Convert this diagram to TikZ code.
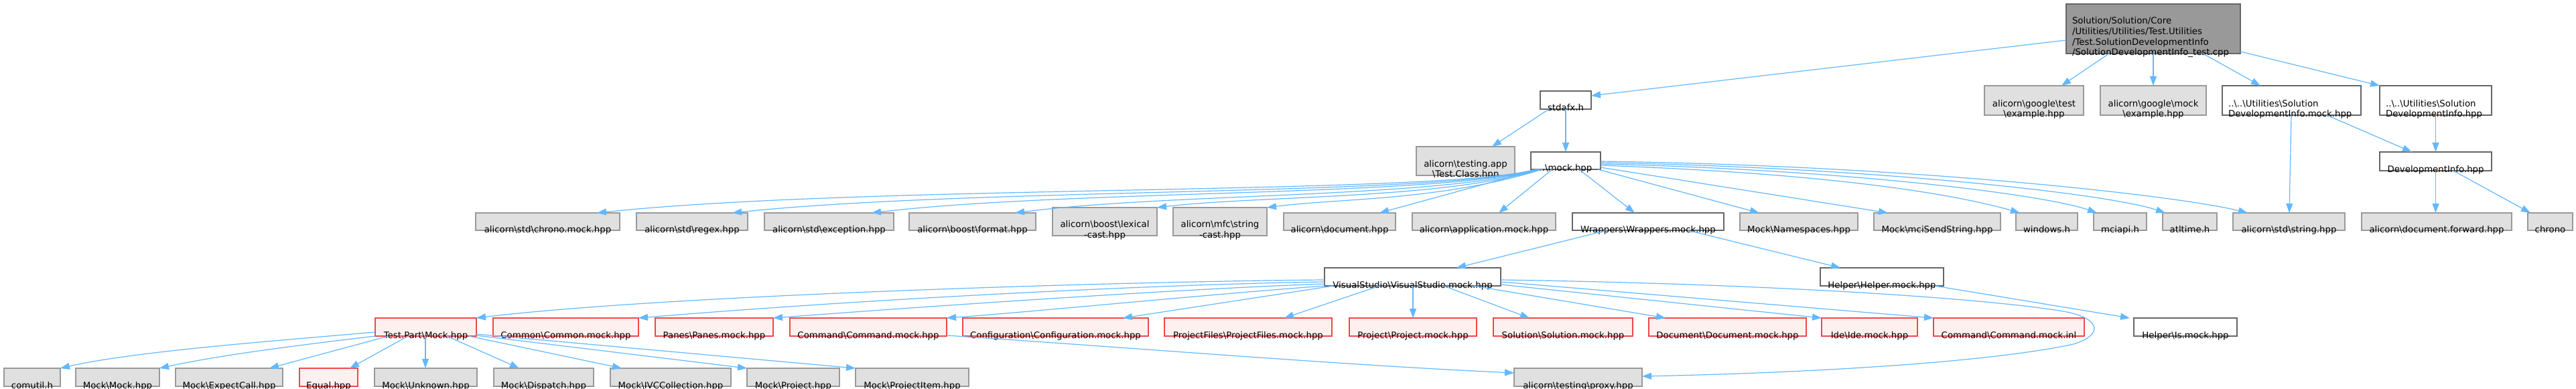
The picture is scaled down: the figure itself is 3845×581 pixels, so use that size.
\documentclass[tikz,border=0pt]{standalone}
\usepackage{fontspec}
\setmainfont{DejaVu Sans}
\usetikzlibrary{arrows.meta,fit,calc}
\definecolor{gfill}{HTML}{E0E0E0}
\definecolor{gdraw}{HTML}{999999}
\definecolor{wdraw}{HTML}{666666}
\definecolor{rfill}{HTML}{FFF0F0}
\definecolor{rdraw}{HTML}{F04848}
\definecolor{dfill}{HTML}{999999}
\definecolor{ecol}{HTML}{63B8FF}
\newcommand\BS{\textbackslash{}}
\newcommand\mkbox[7]{%
  \node[#1,fit={(#3,#4) (#5,#6)}] (#2) {};
  \node[lbl,anchor=base] (#2-t) at ([yshift=-3bp]#2.south) {#7};}
\newcommand\mkboxl[7]{%
  \node[#1,fit={(#3,#4) (#5,#6)}] (#2) {};
  \node[lbl,anchor=base west] (#2-t) at ([xshift=9bp,yshift=-3bp]#2.south west) {#7};}
\newcommand\twoln[2]{\begin{tabular}[b]{@{}c@{}}#1\\#2\end{tabular}}
\newcommand\twolnl[2]{\begin{tabular}[b]{@{}l@{}}#1\\#2\end{tabular}}
\tikzset{
  basebox/.style={inner sep=0pt,outer sep=0pt,line width=1.2bp},
  gbox/.style={basebox,fill=gfill,draw=gdraw},
  wbox/.style={basebox,fill=white,draw=wdraw},
  rbox/.style={basebox,fill=rfill,draw=rdraw},
  dbox/.style={basebox,fill=dfill,draw=wdraw},
  lbl/.style={inner sep=0pt,outer sep=0pt,font=\fontsize{13.3bp}{15.8bp}\selectfont},
  edge/.style={draw=ecol,line width=1.2bp,-{Triangle[length=14bp,width=10bp]}}
}
\begin{document}
\begin{tikzpicture}[x=1bp,y=-1bp]
\fill[white] (0,0) rectangle (3845,581);
\useasboundingbox (0,0) rectangle (3845,581);
% row 0
\mkboxl{dbox}{top}{3084}{6}{3344}{80}{\begin{tabular}[b]{@{}l@{}}Solution/Solution/Core\\/Utilities/Utilities/Test.Utilities\\/Test.SolutionDevelopmentInfo\\/SolutionDevelopmentInfo\_test.cpp\end{tabular}}
% row 1
\mkbox{wbox}{stdafx}{2299}{136}{2375}{163}{stdafx.h}
\mkbox{gbox}{gtest}{2962}{128}{3110}{172}{\twoln{alicorn\BS google\BS test}{\BS example.hpp}}
\mkbox{gbox}{gmock}{3135}{128}{3293}{172}{\twoln{alicorn\BS google\BS mock}{\BS example.hpp}}
\mkboxl{wbox}{sdimock}{3317}{128}{3524}{172}{\twolnl{..\BS..\BS Utilities\BS Solution}{DevelopmentInfo.mock.hpp}}
\mkboxl{wbox}{sdi}{3552}{128}{3719}{172}{\twolnl{..\BS..\BS Utilities\BS Solution}{DevelopmentInfo.hpp}}
% row 2
\mkbox{gbox}{tapp}{2114}{219}{2261}{262}{\twoln{alicorn\BS testing.app}{\BS Test.Class.hpp}}
\mkbox{wbox}{mock}{2285}{227}{2389}{253}{..\BS mock.hpp}
\mkbox{wbox}{devinfo}{3552}{227}{3719}{255}{DevelopmentInfo.hpp}
% row 3
\mkbox{gbox}{chronomock}{710}{318}{925}{344}{alicorn\BS std\BS chrono.mock.hpp}
\mkbox{gbox}{regex}{950}{318}{1116}{344}{alicorn\BS std\BS regex.hpp}
\mkbox{gbox}{exception}{1141}{318}{1334}{344}{alicorn\BS std\BS exception.hpp}
\mkbox{gbox}{format}{1357}{318}{1546}{344}{alicorn\BS boost\BS format.hpp}
\mkbox{gbox}{lexical}{1571}{310}{1727}{352}{\twoln{alicorn\BS boost\BS lexical}{-cast.hpp}}
\mkbox{gbox}{mfcstr}{1751}{310}{1891}{352}{\twoln{alicorn\BS mfc\BS string}{-cast.hpp}}
\mkbox{gbox}{document}{1916}{318}{2083}{344}{alicorn\BS document.hpp}
\mkbox{gbox}{appmock}{2108}{318}{2322}{344}{alicorn\BS application.mock.hpp}
\mkbox{wbox}{wrappers}{2347}{318}{2573}{344}{Wrappers\BS Wrappers.mock.hpp}
\mkbox{gbox}{namespaces}{2597}{318}{2773}{344}{Mock\BS Namespaces.hpp}
\mkbox{gbox}{mcisend}{2797}{318}{2986}{344}{Mock\BS mciSendString.hpp}
\mkbox{gbox}{windows}{3009}{318}{3101}{344}{windows.h}
\mkbox{gbox}{mciapi}{3125}{318}{3204}{344}{mciapi.h}
\mkbox{gbox}{atltime}{3228}{318}{3309}{344}{atltime.h}
\mkbox{gbox}{stdstring}{3333}{318}{3500}{344}{alicorn\BS std\BS string.hpp}
\mkbox{gbox}{docfwd}{3525}{318}{3749}{344}{alicorn\BS document.forward.hpp}
\mkbox{gbox}{chrono}{3773}{318}{3840}{344}{chrono}
% row 4
\mkbox{wbox}{vs}{1977}{400}{2240}{427}{VisualStudio\BS VisualStudio.mock.hpp}
\mkbox{wbox}{helper}{2717}{400}{2901}{427}{Helper\BS Helper.mock.hpp}
% row 5
\mkbox{rbox}{testpart}{560}{475}{711}{502}{Test.Part\BS Mock.hpp}
\mkbox{rbox}{common}{736}{475}{953}{502}{Common\BS Common.mock.hpp}
\mkbox{rbox}{panes}{978}{475}{1154}{502}{Panes\BS Panes.mock.hpp}
\mkbox{rbox}{cmdmock}{1179}{475}{1413}{502}{Command\BS Command.mock.hpp}
\mkbox{rbox}{config}{1437}{475}{1714}{502}{Configuration\BS Configuration.mock.hpp}
\mkbox{rbox}{projfiles}{1738}{475}{1988}{502}{ProjectFiles\BS ProjectFiles.mock.hpp}
\mkbox{rbox}{project}{2014}{475}{2204}{502}{Project\BS Project.mock.hpp}
\mkbox{rbox}{solution}{2229}{475}{2437}{502}{Solution\BS Solution.mock.hpp}
\mkbox{rbox}{docmock}{2461}{475}{2696}{502}{Document\BS Document.mock.hpp}
\mkbox{rbox}{ide}{2719}{475}{2862}{502}{Ide\BS Ide.mock.hpp}
\mkbox{rbox}{cmdinl}{2886}{475}{3111}{502}{Command\BS Command.mock.inl}
\mkbox{wbox}{ismock}{3185}{475}{3339}{502}{Helper\BS Is.mock.hpp}
% row 6
\mkbox{gbox}{comutil}{6}{550}{90}{577}{comutil.h}
\mkbox{gbox}{mmock}{113}{550}{238}{577}{Mock\BS Mock.hpp}
\mkbox{gbox}{expect}{262}{550}{422}{577}{Mock\BS ExpectCall.hpp}
\mkbox{rbox}{equal}{447}{550}{534}{577}{Equal.hpp}
\mkbox{gbox}{unknown}{559}{550}{712}{577}{Mock\BS Unknown.hpp}
\mkbox{gbox}{dispatch}{737}{550}{886}{577}{Mock\BS Dispatch.hpp}
\mkbox{gbox}{ivc}{911}{550}{1091}{577}{Mock\BS IVCCollection.hpp}
\mkbox{gbox}{mproject}{1115}{550}{1253}{577}{Mock\BS Project.hpp}
\mkbox{gbox}{mprojitem}{1277}{550}{1446}{577}{Mock\BS ProjectItem.hpp}
\mkbox{gbox}{proxy}{2260}{550}{2451}{577}{alicorn\BS testing\BS proxy.hpp}
% edges from top
\draw[edge] (top.west |- 0,60) -- (stdafx.east |- 0,143);
\draw[edge] (top.south -| 3148,0) -- (gtest.north -| 3077,0);
\draw[edge] (top.south -| 3214,0) -- (gmock.north -| 3214,0);
\draw[edge] (top.south -| 3288,0) -- (sdimock.north -| 3374,0);
\draw[edge] (top.east |- 0,77) -- (sdi.north west);
\draw[edge] (stdafx.south -| 2312,0) -- (tapp.north -| 2227,0);
\draw[edge] (stdafx.south) -- (mock.north);
\draw[edge] (sdimock.south -| 3473,0) -- (devinfo.north -| 3600,0);
\draw[edge] (sdimock.south -| 3420,0) -- (stdstring.north -| 3417,0);
\draw[edge] (sdi.south) -- (devinfo.north);
\draw[edge] (devinfo.south) -- (docfwd.north -| devinfo.south);
\draw[edge] (devinfo.south -| 3662,0) -- (chrono.north -| 3777,0);
% edges from mock
\draw[edge] (mock.south -| 2292,0) .. controls (2150,292) and (1300,275) .. (chronomock.north -| 891,0);
\draw[edge] (mock.south -| 2294,0) .. controls (2150,293) and (1450,280) .. (regex.north -| 1093,0);
\draw[edge] (mock.south -| 2296,0) .. controls (2150,294) and (1600,283) .. (exception.north -| 1301,0);
\draw[edge] (mock.south -| 2298,0) .. controls (2150,296) and (1750,288) .. (format.north -| 1515,0);
\draw[edge] (mock.south -| 2300,0) .. controls (2150,298) and (1880,292) .. (lexical.north east);
\draw[edge] (mock.south -| 2302,0) .. controls (2150,300) and (2000,296) .. (mfcstr.north east);
\draw[edge] (mock.south -| 2296,0) -- (document.north -| 2059,0);
\draw[edge] (mock.south -| 2317,0) -- (appmock.north -| 2237,0);
\draw[edge] (mock.south -| 2357,0) -- (wrappers.north -| 2440,0);
\draw[edge] (mock.south -| 2385,0) -- (namespaces.north -| 2626,0);
\draw[edge] (mock.east |- 0,250) -- (mcisend.north -| 2818,0);
\draw[edge] (mock.east |- 0,247) .. controls (2700,258) and (2900,285) .. (windows.north -| 3015,0);
\draw[edge] (mock.east |- 0,245) .. controls (2750,253) and (3050,290) .. (mciapi.north -| 3130,0);
\draw[edge] (mock.east |- 0,243) .. controls (2800,250) and (3150,290) .. (atltime.north -| 3232,0);
\draw[edge] (mock.east |- 0,241) .. controls (2850,247) and (3250,292) .. (stdstring.north -| 3355,0);
% wrappers, helper
\draw[edge] (wrappers.south -| 2399,0) -- (vs.north -| 2174,0);
\draw[edge] (wrappers.south -| 2519,0) -- (helper.north -| 2747,0);
\draw[edge] (helper.south -| 2888,0) -- (ismock.north -| 3179,0);
% visual studio
\draw[edge] (vs.west |- 0,418) .. controls (1700,420) and (1000,440) .. (testpart.north east);
\draw[edge] (vs.west |- 0,421) .. controls (1700,425) and (1250,450) .. (common.north east);
\draw[edge] (vs.west |- 0,424) .. controls (1750,432) and (1350,460) .. (panes.north east);
\draw[edge] (vs.west |- 0,427) .. controls (1800,440) and (1550,465) .. (cmdmock.north east);
\draw[edge] (vs.south -| 1990,0) -- (config.north -| 1676,0);
\draw[edge] (vs.south -| 2059,0) -- (projfiles.north -| 1917,0);
\draw[edge] (vs.south -| 2109,0) -- (project.north -| 2109,0);
\draw[edge] (vs.south -| 2155,0) -- (solution.north -| 2283,0);
\draw[edge] (vs.south -| 2200,0) -- (docmock.north -| 2486,0);
\draw[edge] (vs.east |- 0,425) -- (ide.north west);
\draw[edge] (vs.east |- 0,421) -- (cmdinl.north west);
\draw[edge] (vs.east |- 0,418) .. controls (2700,425) and (3000,450) .. (3085,466)
  .. controls (3135,476) and (3140,500) .. (3095,514)
  .. controls (2950,545) and (2650,558) .. (proxy.east |- 0,562);
\draw[edge] (cmdmock.east |- 0,501) .. controls (1700,520) and (2000,545) .. (proxy.west |- 0,557);
% test part
\draw[edge] (testpart.west |- 0,496) .. controls (400,510) and (200,525) .. (comutil.north east);
\draw[edge] (testpart.west |- 0,502) .. controls (450,515) and (330,530) .. (mmock.north east);
\draw[edge] (testpart.south -| 580,0) -- (expect.north -| 402,0);
\draw[edge] (testpart.south -| 609,0) -- (equal.north -| 522,0);
\draw[edge] (testpart.south -| 635,0) -- (unknown.north -| 635,0);
\draw[edge] (testpart.south -| 667,0) -- (dispatch.north -| 775,0);
\draw[edge] (testpart.south -| 700,0) -- (ivc.north -| 928,0);
\draw[edge] (testpart.east |- 0,501) -- (mproject.north west);
\draw[edge] (testpart.east |- 0,499) -- (mprojitem.north west);
\end{tikzpicture}
\end{document}
